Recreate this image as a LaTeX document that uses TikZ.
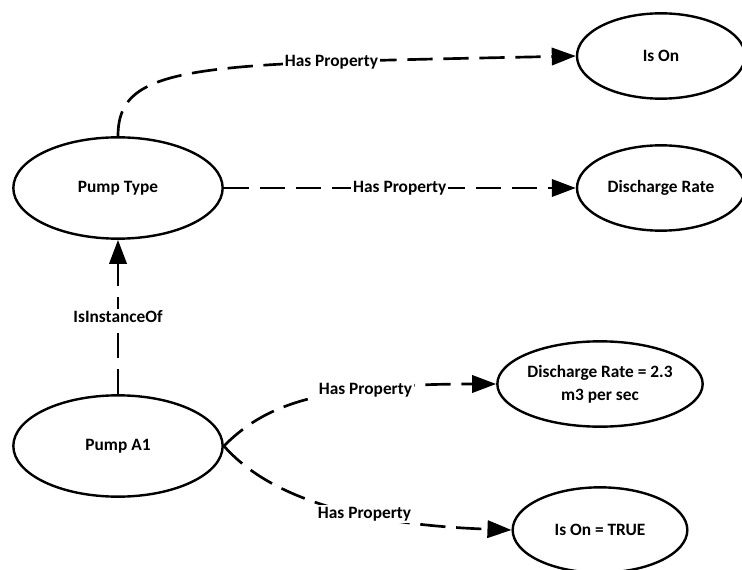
\documentclass[tikz,border=0pt]{standalone}
\usepackage{fontspec}
\setmainfont{Carlito}
\usetikzlibrary{arrows.meta,shapes.geometric,positioning}

\begin{document}
\begin{tikzpicture}
  [x=0.75pt,y=-0.75pt,
   thing/.style={ellipse,draw=black,line width=1.8pt,inner sep=0pt,
                 minimum width=157pt,minimum height=76pt,align=center,
                 font=\fontsize{13}{17}\selectfont\bfseries},
   prop/.style={thing,minimum width=126pt,minimum height=64pt},
   value/.style={thing,minimum width=131pt,minimum height=64pt},
   link/.style={line width=2pt,dash pattern=on 19pt off 8pt,
                -{Triangle[length=18pt,width=13pt]}},
   tag/.style={fill=white,inner sep=1.5pt,
               font=\fontsize{13}{15}\selectfont\bfseries}]
  \useasboundingbox (0,0) rectangle (742,570);
  \node[thing] (pump type)  at (118,188) {Pump Type};
  \node[thing] (pump a1)    at (118,446) {Pump A1};
  \node[prop]  (is on)      at (661,56)  {Is On};
  \node[prop]  (rate)       at (661,188) {Discharge Rate};
  \node[value] (rate value) at (600,384) {Discharge Rate = 2.3\\m3 per sec};
  \node[value] (on value)   at (600,530) {Is On = TRUE};
  \draw [link] (pump type.north) .. controls (118,62) and (200,64)
                       .. node[tag,pos=0.73] {Has Property} (is on.west);
  \draw [link] (pump type) -- node[tag] {Has Property} (rate);
  \draw [link] (pump a1) -- node[tag] {IsInstanceOf} (pump type);
  \draw [link] (pump a1.east) .. controls +(40,-40) and +(-180,0)
                       .. node[tag,pos=0.7] {Has Property} (rate value.west);
  \draw [link] (pump a1.east) .. controls +(40,45) and +(-170,-6)
                       .. node[tag,pos=0.65] {Has Property} (on value.west);
\end{tikzpicture}
\end{document}
